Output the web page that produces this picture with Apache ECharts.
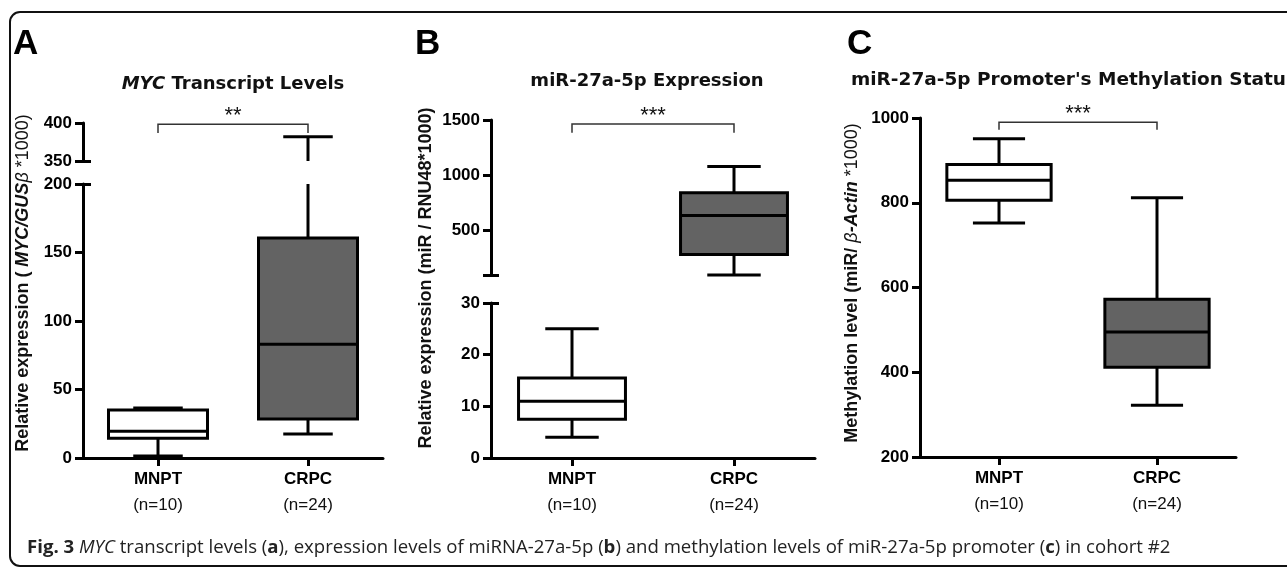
<!DOCTYPE html>
<html>
<head>
<meta charset="utf-8">
<script src="https://cdn.jsdelivr.net/npm/echarts@6.0.0/dist/echarts.min.js"></script>
<style>
html, body { margin: 0; padding: 0; background: #fff; }
#chart { width: 1287px; height: 569px; }
</style>
</head>
<body>
<div id="chart"></div>
<script>
const groups = ['MNPT', 'CRPC'];
const groupSizes = ['(n=10)', '(n=24)'];

// box stats: [min, Q1, median, Q3, max]
const mycMNPT = [1.5, 14.5, 19.5, 35, 36.5];
const mycCRPC = [17.5, 28.5, 83, 160.5, 382];
const mirMNPT = [4, 7.5, 11, 15.5, 25];
const mirCRPC = [100, 285, 638, 843, 1080];
const methMNPT = [752, 806, 853, 890, 951];
const methCRPC = [322, 412, 495, 572, 812];

// significance brackets: [leg end, bar level]
const sigA = [387, 398.5];
const sigB = [1385, 1465];
const sigC = [972, 990];
const sigStars = ['**', '***', '***'];

// tick labels (axes are broken for A and B)
const ticksALow = [0, 50, 100, 150, 200];
const ticksAUp = [350, 400];
const ticksBLow = [0, 10, 20, 30];
const ticksBUp = [500, 1000, 1500];
const ticksBUpMarks = [100, 500, 1000, 1500];
const ticksC = [200, 400, 600, 800, 1000];

const boxFill = ['#ffffff', '#636363'];

const chart = echarts.init(document.getElementById('chart'));

function toRows(a, b) {
    return [[0].concat(a), [1].concat(b)];
}

function renderBox(params, api) {
    const cs = params.coordSys;
    const top = cs.y, bottom = cs.y + cs.height;
    const band = api.size([1, 0])[0];
    const cat = api.value(0);
    const cx = api.coord([cat, 0])[0];
    const ys = [1, 2, 3, 4, 5].map(d => api.coord([cat, api.value(d)])[1]);
    const clampY = y => Math.min(bottom, Math.max(top, y));
    const inside = y => y >= top - 0.5 && y <= bottom + 0.5;
    const boxHalf = band * 0.33;
    const capHalf = boxHalf / 2;
    const line = { stroke: '#000', lineWidth: 3 };
    const children = [];

    function whisker(y1, y2) {
        const a = clampY(y1), b = clampY(y2);
        if (Math.abs(a - b) > 0.5) {
            children.push({ type: 'line', shape: { x1: cx, y1: a, x2: cx, y2: b }, style: line });
        }
    }
    whisker(ys[0], ys[1]);
    whisker(ys[3], ys[4]);

    const bt = clampY(ys[3]), bb = clampY(ys[1]);
    if (bb - bt > 0.5) {
        children.push({
            type: 'rect',
            shape: { x: cx - boxHalf, y: bt, width: boxHalf * 2, height: bb - bt },
            style: { fill: boxFill[params.dataIndex], stroke: '#000', lineWidth: 3 }
        });
    }
    if (inside(ys[2])) {
        children.push({ type: 'line', shape: { x1: cx - boxHalf, y1: ys[2], x2: cx + boxHalf, y2: ys[2] }, style: line });
    }
    [ys[0], ys[4]].forEach(y => {
        if (inside(y)) {
            children.push({ type: 'line', shape: { x1: cx - capHalf, y1: y, x2: cx + capHalf, y2: y }, style: line });
        }
    });
    return { type: 'group', children };
}

function boxSeries(grid, rows) {
    return {
        type: 'custom',
        xAxisIndex: grid,
        yAxisIndex: grid,
        silent: true,
        dimensions: ['group', 'min', 'q1', 'median', 'q3', 'max'],
        encode: { x: 0, y: [1, 2, 3, 4, 5] },
        renderItem: renderBox,
        data: rows
    };
}

function bracketSeries(grid, sig, stars) {
    return {
        type: 'custom',
        xAxisIndex: grid,
        yAxisIndex: grid,
        silent: true,
        z: 3,
        renderItem: function (params, api) {
            const p0 = api.coord([0, api.value(1)]);
            const p1 = api.coord([1, api.value(1)]);
            const legY = api.coord([0, api.value(0)])[1];
            return {
                type: 'group',
                children: [
                    {
                        type: 'polyline',
                        shape: { points: [[p0[0], legY], [p0[0], p0[1]], [p1[0], p1[1]], [p1[0], legY]] },
                        style: { stroke: '#333', lineWidth: 1.5, fill: null }
                    },
                    {
                        type: 'text',
                        style: {
                            text: stars, x: (p0[0] + p1[0]) / 2, y: p0[1] + 3,
                            align: 'center', verticalAlign: 'bottom',
                            fontFamily: 'Liberation Sans', fontSize: 22, fill: '#111'
                        }
                    }
                ]
            };
        },
        data: [[sig[0], sig[1]]]
    };
}

function valueAxis(grid, min, max, labels, ticks) {
    return {
        type: 'value', gridIndex: grid, position: 'left', min: min, max: max,
        axisLine: { show: true, lineStyle: { color: '#000', width: 3 } },
        axisTick: { show: true, length: 8, customValues: ticks || labels, lineStyle: { color: '#000', width: 3 } },
        axisLabel: {
            customValues: labels, margin: 11, color: '#000',
            formatter: v => String(v),
            fontFamily: 'Liberation Sans', fontWeight: 'bold', fontSize: 17
        },
        splitLine: { show: false }
    };
}

// short inward ticks where an axis segment ends at a break
function breakTicks(grid, min, max, at) {
    return {
        type: 'value', gridIndex: grid, position: 'left', min: min, max: max,
        axisLine: { show: false },
        axisLabel: { show: false },
        splitLine: { show: false },
        axisTick: { show: true, inside: true, length: 8, customValues: at, lineStyle: { color: '#000', width: 3 } }
    };
}

function catAxis(grid, show) {
    return {
        type: 'category', gridIndex: grid, data: groups, show: show,
        axisLine: { show: true, onZero: false, lineStyle: { color: '#000', width: 3 } },
        axisTick: { show: true, alignWithLabel: true, length: 8, lineStyle: { color: '#000', width: 3 } },
        axisLabel: {
            interval: 0, margin: 10,
            formatter: (v, i) => '{b|' + v + '}\n{n|' + groupSizes[i] + '}',
            rich: {
                b: { fontFamily: 'Liberation Sans', fontWeight: 'bold', fontSize: 17, color: '#000', lineHeight: 22 },
                n: { fontFamily: 'Liberation Sans', fontSize: 17, color: '#111', lineHeight: 30 }
            }
        },
        splitLine: { show: false }
    };
}

const titleFont = { fontFamily: 'DejaVu Sans', fontWeight: 'bold', fontSize: 18, fill: '#111' };
const yTitleFont = { fontFamily: 'Liberation Sans', fontSize: 18, fill: '#111' };

function yTitle(x, y, text, rich) {
    return {
        type: 'text', x: x, y: y, rotation: Math.PI / 2,
        style: Object.assign({ text: text, align: 'center', verticalAlign: 'middle', rich: rich }, yTitleFont, { fontWeight: 'bold' })
    };
}

const yRich = {
    n: { fontFamily: 'Liberation Sans', fontSize: 18, fontWeight: 'bold', fill: '#111' },
    bi: { fontFamily: 'Liberation Sans', fontSize: 18, fontWeight: 'bold', fontStyle: 'italic', fill: '#111' },
    g: { fontFamily: 'Liberation Sans', fontSize: 18, fontStyle: 'italic', fill: '#111' },
    r: { fontFamily: 'Liberation Sans', fontSize: 18, fill: '#111' }
};

const capRich = {
    t: { fontFamily: 'Open Sans', fontSize: 18.6, fill: '#222' },
    b: { fontFamily: 'Open Sans', fontSize: 18.6, fontWeight: 'bold', fill: '#222' },
    i: { fontFamily: 'Open Sans', fontSize: 18.6, fontStyle: 'italic', fill: '#222' }
};

const option = {
    animation: false,
    backgroundColor: '#fff',
    grid: [
        { left: 83, top: 184, width: 300, height: 274 },
        { left: 83, top: 123, width: 300, height: 38 },
        { left: 491, top: 303, width: 324, height: 155 },
        { left: 491, top: 120, width: 324, height: 155 },
        { left: 920, top: 118, width: 316, height: 339 }
    ],
    xAxis: [
        catAxis(0, true),
        catAxis(1, false),
        catAxis(2, true),
        catAxis(3, false),
        catAxis(4, true)
    ],
    yAxis: [
        valueAxis(0, 0, 200, ticksALow),
        valueAxis(1, 350, 400, ticksAUp),
        valueAxis(2, 0, 30, ticksBLow),
        valueAxis(3, 100, 1500, ticksBUp, ticksBUpMarks),
        valueAxis(4, 200, 1000, ticksC),
        breakTicks(0, 0, 200, [200]),
        breakTicks(1, 350, 400, [350]),
        breakTicks(2, 0, 30, [30]),
        breakTicks(3, 100, 1500, [100])
    ],
    series: [
        boxSeries(0, toRows(mycMNPT, mycCRPC)),
        boxSeries(1, toRows(mycMNPT, mycCRPC)),
        boxSeries(2, toRows(mirMNPT, mirCRPC)),
        boxSeries(3, toRows(mirMNPT, mirCRPC)),
        boxSeries(4, toRows(methMNPT, methCRPC)),
        bracketSeries(1, sigA, sigStars[0]),
        bracketSeries(3, sigB, sigStars[1]),
        bracketSeries(4, sigC, sigStars[2])
    ],
    graphic: [
        {
            type: 'rect', shape: { x: 10, y: 12, width: 1330, height: 554, r: 10 },
            style: { fill: null, stroke: '#111', lineWidth: 2 }, silent: true
        },
        { type: 'text', x: 13, y: 44, style: { text: 'A', fontFamily: 'Liberation Sans', fontWeight: 'bold', fontSize: 35, fill: '#000', verticalAlign: 'middle' } },
        { type: 'text', x: 415, y: 44, style: { text: 'B', fontFamily: 'Liberation Sans', fontWeight: 'bold', fontSize: 35, fill: '#000', verticalAlign: 'middle' } },
        { type: 'text', x: 847, y: 44, style: { text: 'C', fontFamily: 'Liberation Sans', fontWeight: 'bold', fontSize: 35, fill: '#000', verticalAlign: 'middle' } },
        {
            type: 'text', x: 233, y: 84,
            style: Object.assign({
                text: '{i|MYC} Transcript Levels', align: 'center', verticalAlign: 'middle',
                rich: { i: { fontFamily: 'DejaVu Sans', fontWeight: 'bold', fontStyle: 'italic', fontSize: 18, fill: '#111' } }
            }, titleFont)
        },
        { type: 'text', x: 647, y: 81, style: Object.assign({ text: 'miR-27a-5p Expression', align: 'center', verticalAlign: 'middle' }, titleFont) },
        { type: 'text', x: 851, y: 80, style: Object.assign({ text: "miR-27a-5p Promoter's Methylation Status", align: 'left', verticalAlign: 'middle' }, titleFont, { fontSize: 18.5 }) },
        yTitle(23, 283, '{n|Relative expression ( }{bi|MYC/GUS}{g|β}{r| *1000)}', yRich),
        yTitle(426, 278, '{n|Relative expression (miR / RNU48*1000)}', yRich),
        yTitle(852, 283, '{n|Methylation level (miR/ }{g|β}{bi|-Actin}{r| *1000)}', yRich),
        {
            type: 'text', x: 27, y: 548,
            style: {
                text: '{b|Fig. 3} {i|MYC}{t| transcript levels (}{b|a}{t|), expression levels of miRNA-27a-5p (}{b|b}{t|) and methylation levels of miR-27a-5p promoter (}{b|c}{t|) in cohort #2}',
                rich: capRich, fontFamily: 'Open Sans', fontSize: 18.6, fill: '#222',
                align: 'left', verticalAlign: 'middle'
            }
        }
    ]
};

chart.setOption(option);

window.addEventListener('resize', function () {
    chart.resize();
});
</script>
</body>
</html>
